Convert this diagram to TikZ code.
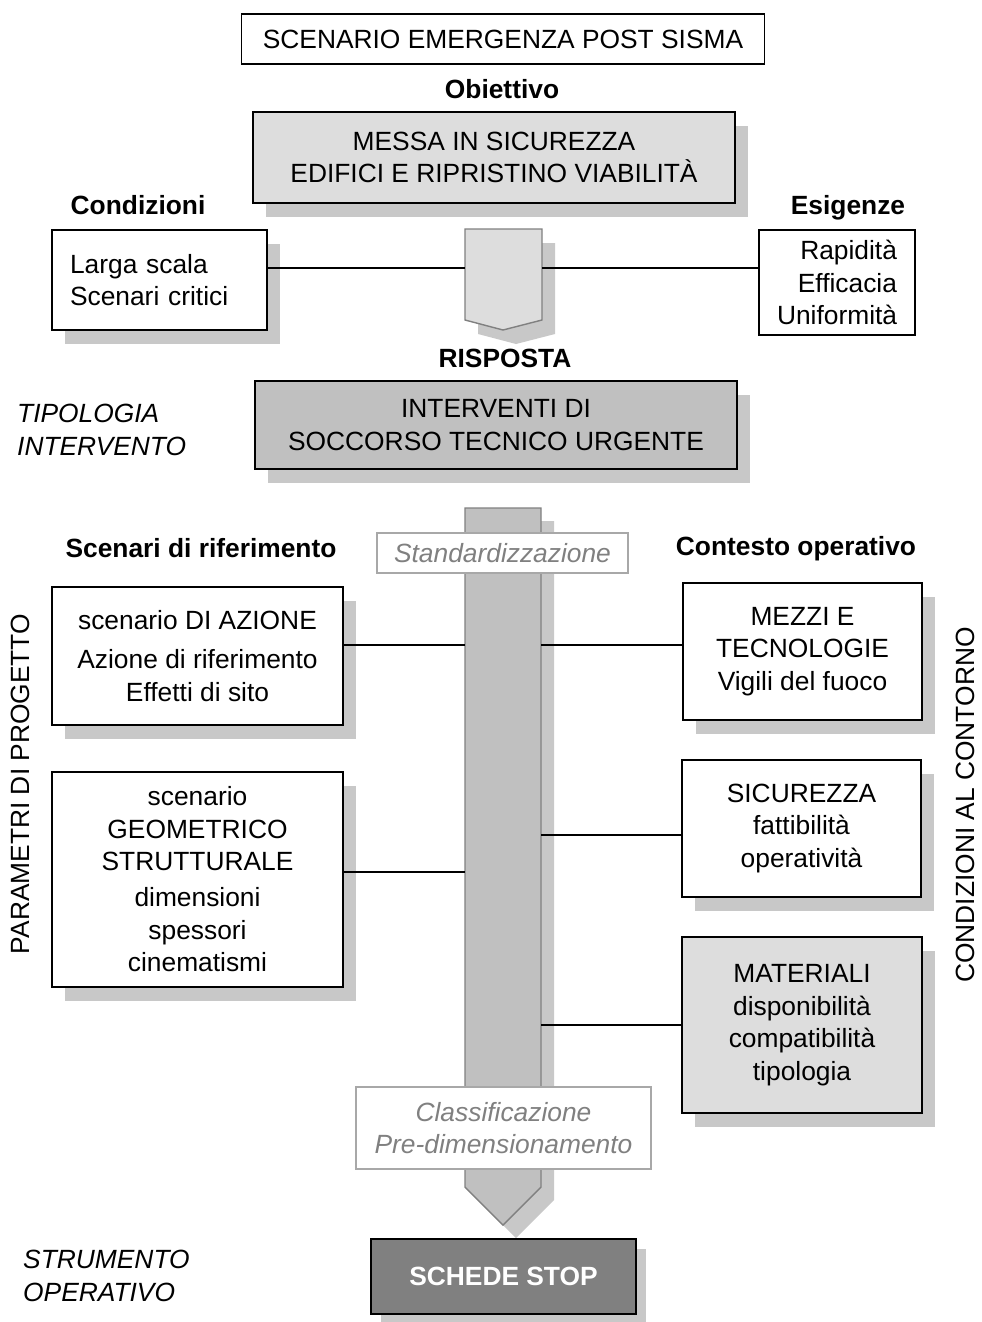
\documentclass[tikz,border=0pt]{standalone}
\usepackage{fontspec}
\setmainfont{Liberation Sans}
\usetikzlibrary{shadows}

\definecolor{lightfill}{HTML}{DDDDDD}
\definecolor{midfill}{HTML}{C0C0C0}
\definecolor{darkfill}{HTML}{808080}
\definecolor{shadowgray}{HTML}{C8C8C8}
\definecolor{softline}{HTML}{A8A8A8}
\definecolor{softtext}{HTML}{808080}

\begin{document}
\begin{tikzpicture}[x=0.02cm, y=-0.02cm,
  every node/.style={font=\fontsize{15}{18.5}\selectfont},
  box/.style={draw=black, line width=0.8pt, fill=white, align=center, inner sep=0pt},
  shadebox/.style={box, general shadow={fill=shadowgray, shadow xshift=0.26cm, shadow yshift=-0.28cm}},
  tag/.style={font=\fontsize{15}{18.5}\selectfont\bfseries, text height=1.6ex, text depth=0.3ex},
  side/.style={font=\fontsize{15}{18.5}\selectfont\itshape, align=left, anchor=west},
  stagebox/.style={draw=softline, line width=0.8pt, fill=white, text=softtext, align=center, inner sep=0pt,
    font=\fontsize{15}{18.5}\selectfont\itshape}]

\useasboundingbox (0,0) rectangle (981,1322);


% Scenario
\path 
(503,39) node [box, minimum width=10.46cm, minimum height=1cm] (scenario) {SCENARIO EMERGENZA POST SISMA};


% Obiettivo
\path 
(502,92) node [tag] (obiettivo) {Obiettivo};

\path 
(494,157.5) node [shadebox, fill=lightfill, minimum width=9.64cm, minimum height=1.82cm] (messa)
  {MESSA IN SICUREZZA\\EDIFICI E RIPRISTINO VIABILIT\`A};


% Condizioni and esigenze
\path 
(138,208) node [tag] (condizioni) {Condizioni};
\path 
(848,208) node [tag] (esigenze) {Esigenze};

\path 
(159.5,280) node [shadebox, align=left, text width=3.58cm, inner xsep=0.36cm, minimum height=2cm] (scala)
  {Larga scala\\Scenari critici};

\path 
(837,282.5) node [box, align=right, text width=2.4cm, inner xsep=0.36cm, minimum height=2.1cm] (rapidita)
  {Rapidit\`a\\Efficacia\\Uniformit\`a};


% Small arrow down (shadow first)
\filldraw[fill=shadowgray, draw=none] (478,243) -- (555,243) -- (555,334) -- (516,344) -- (478,334) -- cycle;
\filldraw[fill=lightfill, draw=darkfill, line width=0.8pt] (465,229) -- (542,229) -- (542,320) -- (503,330) -- (465,320) -- cycle;

\coordinate (arrowL) at (465,268);
\coordinate (arrowR) at (542,268);

\draw[line width=0.7pt] (scala.east |- arrowL) -- (arrowL);
\draw[line width=0.7pt] (arrowR) -- (arrowR -| rapidita.west);


% Risposta
\path 
(505,361) node [tag] (risposta) {RISPOSTA};

\path 
(496,425) node [shadebox, fill=midfill, minimum width=9.64cm, minimum height=1.76cm] (interventi)
  {INTERVENTI DI\\SOCCORSO TECNICO URGENTE};

\path 
(11,430) node [side] (tipologia) {TIPOLOGIA\\INTERVENTO};


% Long column down (shadow first)
\filldraw[fill=shadowgray, draw=none] (478,521) -- (554,521) -- (554,1200) -- (516,1238) -- (478,1200) -- cycle;
\filldraw[fill=midfill, draw=darkfill, line width=0.8pt] (465,508) -- (541,508) -- (541,1187) -- (503,1225) -- (465,1187) -- cycle;

\coordinate (colL1) at (465,645);
\coordinate (colL2) at (465,872);
\coordinate (colR1) at (541,645);
\coordinate (colR2) at (541,835);
\coordinate (colR3) at (541,1025);

\path 
(502.5,553) node [stagebox, minimum width=5.02cm, minimum height=0.8cm] (standard) {Standardizzazione};

\path 
(503.5,1128) node [stagebox, minimum width=5.9cm, minimum height=1.64cm] (classifica)
  {Classificazione\\Pre-dimensionamento};


% Scenari di riferimento
\path 
(201,551) node [tag] (scenari) {Scenari di riferimento};

\path 
(197.5,656) node [shadebox, minimum width=5.82cm, minimum height=2.76cm] (azione)
  {scenario DI AZIONE\\[4pt]Azione di riferimento\\Effetti di sito};

\path 
(197.5,879.5) node [shadebox, minimum width=5.82cm, minimum height=4.3cm] (geometrico)
  {scenario\\GEOMETRICO\\STRUTTURALE\\[2pt]dimensioni\\spessori\\cinematismi};

\draw[line width=0.7pt] (azione.east |- colL1) -- (colL1);
\draw[line width=0.7pt] (geometrico.east |- colL2) -- (colL2);


% Contesto operativo
\path 
(796,549) node [tag] (contesto) {Contesto operativo};

\path 
(802.5,651.5) node [shadebox, minimum width=4.78cm, minimum height=2.74cm] (mezzi)
  {MEZZI E\\TECNOLOGIE\\Vigili del fuoco};

\path 
(801.5,828.5) node [shadebox, minimum width=4.78cm, minimum height=2.74cm] (sicurezza)
  {SICUREZZA\\fattibilit\`a\\operativit\`a};

\path 
(802,1025) node [shadebox, fill=lightfill, minimum width=4.8cm, minimum height=3.52cm] (materiali)
  {MATERIALI\\disponibilit\`a\\compatibilit\`a\\tipologia};

\draw[line width=0.7pt] (colR1) -- (colR1 -| mezzi.west);
\draw[line width=0.7pt] (colR2) -- (colR2 -| sicurezza.west);
\draw[line width=0.7pt] (colR3) -- (colR3 -| materiali.west);


% Side titles
\path 
(20,784) node [rotate=90] (parametri) {PARAMETRI DI PROGETTO};
\path 
(965,805) node [rotate=90] (contorno) {CONDIZIONI AL CONTORNO};


% Schede stop
\path 
(503.5,1276.5) node [box, fill=darkfill, text=white, line width=1pt, minimum width=5.3cm, minimum height=1.5cm,
  font=\fontsize{15}{18.5}\selectfont\bfseries,
  general shadow={fill=shadowgray, shadow xshift=0.2cm, shadow yshift=-0.2cm}] (schede) {SCHEDE STOP};

\path 
(17,1276) node [side] (strumento) {STRUMENTO\\OPERATIVO};


\end{tikzpicture}
\end{document}
